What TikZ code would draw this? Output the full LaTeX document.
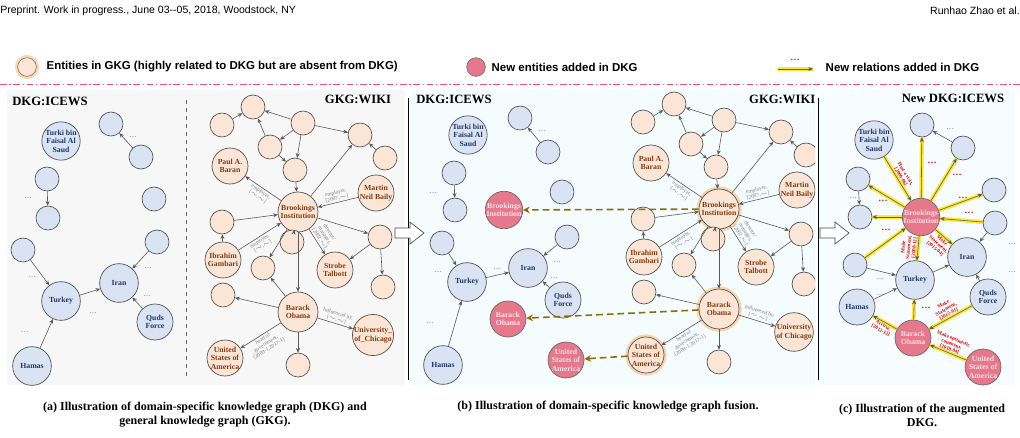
\documentclass[tikz,border=0pt]{standalone}
\usepackage{fontspec}
\setmainfont{Liberation Serif}
\newfontfamily\hsans{Liberation Sans}
\usetikzlibrary{arrows.meta,positioning}
\definecolor{bfill}{RGB}{218,227,243}
\definecolor{btext}{RGB}{31,56,100}
\definecolor{ofill}{RGB}{251,229,214}
\definecolor{otext}{RGB}{132,60,12}
\definecolor{rfill}{RGB}{230,120,140}
\definecolor{rtext}{RGB}{255,225,230}
\definecolor{olive}{RGB}{140,110,10}
\definecolor{pinkl}{RGB}{240,80,130}
\tikzset{
 base/.style={circle,draw=black!70,line width=0.5pt,inner sep=0pt,align=center,font=\bfseries\fontsize{5.8}{6.3}\selectfont},
 bs/.style={base,fill=bfill,minimum size=18pt},
 bl/.style={base,fill=bfill,text=btext,minimum size=27pt},
 bb/.style={base,fill=bfill,text=btext,minimum size=29pt},
 os/.style={base,fill=ofill,minimum size=18pt},
 ol/.style={base,fill=ofill,text=otext,minimum size=27pt},
 ob/.style={base,fill=ofill,text=otext,minimum size=30pt},
 rl/.style={base,fill=rfill,text=rtext,draw=black!60,minimum size=27pt},
 glow/.style={preaction={draw=orange!70,line width=4pt,opacity=0.45}},
 e/.style={draw=black!65,line width=0.45pt,-{Stealth[length=3.5pt,width=3pt]}},
 nw/.style={e,preaction={draw=yellow!85!orange,line width=3pt,-,opacity=0.8}},
 el/.style={font=\fontsize{4.1}{4.4}\selectfont,text=black!50,align=center,sloped,inner sep=1pt},
 rl2/.style={font=\bfseries\fontsize{3.8}{4.1}\selectfont,text=red!85!black,align=center,sloped,inner sep=1pt},
 dots/.style={font=\fontsize{6}{6}\selectfont,text=black!60},
 rdots/.style={font=\bfseries\fontsize{7}{7}\selectfont,text=red!85!black},
 ttl/.style={font=\bfseries\fontsize{9.5}{10}\selectfont},
 capt/.style={font=\bfseries\fontsize{9}{10.5}\selectfont,align=center},
 fuse/.style={draw=olive,dashed,dash pattern=on 5pt off 3pt,line width=1.2pt,-{Stealth[length=5pt,width=5pt]}},
}
\newcommand\gkgraph[1]{%
 \node[os] (#1g1) at (253,107) {};
 \node[os] (#1g2) at (222,125) {};
 \node[os] (#1g3) at (303,123) {};
 \node[os] (#1g4) at (270,147) {};
 \node[os] (#1g5) at (360,135) {};
 \node[os] (#1g6) at (385,158) {};
 \node[os] (#1g7) at (295,170) {};
 \node[ol] (#1paul) at (230,166) {Paul A.\\Baran};
 \node[ol] (#1martin) at (376,193) {Martin\\Neil Baily};
 \node[ob,#1glowstyle] (#1brook) at (298,212) {Brookings\\Institution};
 \node[os] (#1g8) at (222,222) {};
 \node[ol] (#1ibra) at (223,260) {Ibrahim\\Gambari};
 \node[os] (#1g9) at (292,242) {};
 \node[os] (#1g10) at (263,268) {};
 \node[ol] (#1strobe) at (335,270) {Strobe\\Talbott};
 \node[os] (#1g11) at (380,237) {};
 \node[os] (#1g12) at (383,287) {};
 \node[os] (#1g13) at (223,295) {};
 \node[ob,#1glowstyle] (#1obama) at (298,312) {Barack\\Obama};
 \node[ol] (#1chi) at (373,335) {\csname #1chicago\endcsname};
 \node[ol,#1glowstyle] (#1usa) at (225,358) {United\\States of\\America};
 \node[os] (#1g14) at (298,365) {};
 \draw[e] (#1g2)--(#1g1); \draw[e] (#1g3)--(#1g1); \draw[e] (#1g4)--(#1g1);
 \draw[e] (#1g3)--(#1g4); \draw[e] (#1g3)--(#1g7); \draw[e] (#1g3)--(#1g5);
 \draw[e] (#1g6)--(#1g5); \draw[e] (#1g4)--(#1g7); \draw[e] (#1g7)--(#1brook);
 \draw[e] (#1brook)--(#1g5);
 \draw[e] (#1brook)--node[el,below]{employer,\\{[}$\sim$,$\sim${]}}(#1paul);
 \draw[e] (#1martin)--node[el,above]{employer,\\{[}2007,$\sim${]}}(#1brook);
 \draw[e] (#1g8)--(#1brook); \draw[e] (#1ibra)--(#1g8);
 \draw[e] (#1ibra)--node[el,below,pos=0.45]{employer,\\{[}$\sim$,$\sim${]}}(#1brook);
 \draw[e] (#1brook)--(#1g9); \draw[e] (#1brook)--(#1g10);
 \draw[e] (#1brook)--node[el,above,pos=0.45]{director/\\manager,\\{[}2002,$\sim${]}}(#1strobe);
 \draw[e] (#1brook)--(#1g11); \draw[e] (#1g11)--(#1strobe); \draw[e] (#1g11)--(#1g12);
 \draw[e] (#1brook)--(#1obama); \draw[e] (#1obama)--(#1g10); \draw[e] (#1obama)--(#1g13);
 \draw[e] (#1obama)--node[el,above]{Influenced by,\\{[}$\sim$,$\sim${]}}(#1chi);
 \draw[e] (#1obama)--node[el,below]{head of\\government,\\{[}2009-1,2017-1{]}}(#1usa);
 \draw[e] (#1obama)--(#1g14);
}
\begin{document}
\begin{tikzpicture}[x=0.75pt,y=-0.75pt]
\useasboundingbox (0,0) rectangle (1020,437);
% header
\node[font=\hsans\fontsize{7.9}{8.5}\selectfont,anchor=west,inner sep=0pt] at (0,11) {Preprint. Work in progress., June 03--05, 2018, Woodstock, NY};
\node[font=\hsans\fontsize{7.9}{8.5}\selectfont,anchor=east,inner sep=0pt] at (1020,11) {Runhao Zhao et al.};
% legend
\node[circle,draw=black!60,fill=ofill,minimum size=14pt,inner sep=0pt,glow] (lg1) at (27,67) {};
\node[font=\hsans\bfseries\fontsize{8.6}{9}\selectfont,anchor=west] at (42,67) {Entities in GKG (highly related to DKG but are absent from DKG)};
\node[circle,draw=black!60,fill=rfill,minimum size=14pt,inner sep=0pt] (lg2) at (476,67) {};
\node[font=\hsans\bfseries\fontsize{8.6}{9}\selectfont,anchor=west] at (487,67) {New entities added in DKG};
\coordinate (la) at (778,69); \coordinate (lb) at (813,69);
\draw[nw] (la)--(lb);
\node[rdots] at (795,60) {\ldots};
\node[font=\hsans\bfseries\fontsize{8.6}{9}\selectfont,anchor=west] at (821,67) {New relations added in DKG};
\draw[pinkl,line width=0.6pt,dash pattern=on 5pt off 2pt on 1pt off 2pt] (0,84)--(1020,84);
% backgrounds
\fill[black!3] (7,90) rectangle (405,385);
\fill[cyan!4] (412,90) rectangle (815,385);
\fill[cyan!3] (818,90) rectangle (1015,385);
\draw[black!60,dashed,line width=0.7pt] (186,100)--(186,378);
\draw[black,line width=0.7pt] (408,98)--(408,380);
\draw[black,line width=0.7pt] (818,98)--(818,380);
% hollow arrows
\draw[black!70,fill=white,line width=0.5pt] (395,228)--(410,228)--(410,222)--(424,233)--(410,244)--(410,238)--(395,238)--cycle;
\draw[black!70,fill=white,line width=0.5pt] (820,228)--(835,228)--(835,222)--(849,233)--(835,244)--(835,238)--(820,238)--cycle;
% ---------- panel (a) DKG
\node[ttl] at (50,101) {DKG:ICEWS};
\node[ttl] at (358,99) {GKG:WIKI};
\node[bl] (aturki) at (61,141) {Turki bin\\Faisal Al\\Saud};
\node[bs] (a1) at (111,124) {}; \node[bs] (a2) at (141,157) {};
\draw[e] (a2)--(a1); \node[dots] at (133,137) {\ldots};
\node[bs] (a3) at (47,179) {}; \node[bs] (a4) at (48,218) {};
\draw[e] (a3)--(a4); \node[dots] at (28,198) {\ldots};
\node[bs] (a5) at (154,199) {};
\node[bs] (a6) at (157,242) {}; \node[bs] (a7) at (23,250) {};
\node[bb] (aturkey) at (61,301) {Turkey};
\node[bb] (airan) at (119,283) {Iran};
\node[bl] (aquds) at (155,322) {Quds\\Force};
\node[bb] (ahamas) at (32,366) {Hamas};
\draw[e] (ahamas)--(aturkey); \draw[e] (a7)--(aturkey); \draw[e] (aturkey)--(airan);
\draw[e] (a6)--(airan); \draw[e] (aquds)--(airan);
\node[dots] at (32,277) {\ldots}; \node[dots] at (25,332) {\ldots}; \node[dots] at (93,313) {\ldots};
\node[dots] at (148,268) {\ldots}; \node[dots] at (147,296) {\ldots};
% GKG (a)
\tikzset{aglowstyle/.style={}}
\expandafter\def\csname achicago\endcsname{University\_\\of\_Chicago}
\gkgraph{a}
% ---------- panel (b)
\begin{scope}
\clip (412,90) rectangle (815,385);
\node[ttl] at (454,99) {DKG:ICEWS};
\node[ttl,anchor=east] at (820,99) {GKG:WIKI};
\node[bl] (bturki) at (468,135) {Turki bin\\Faisal Al\\Saud};
\node[bs] (b1) at (520,118) {}; \node[bs] (b2) at (548,152) {};
\draw[e] (b2)--(b1); \node[dots] at (542,131) {\ldots};
\node[bs] (b3) at (454,173) {}; \node[bs] (b4) at (455,210) {};
\draw[e] (b3)--(b4); \node[dots] at (433,193) {\ldots};
\node[bs] (b5) at (562,192) {};
\node[rl] (bbrookr) at (504,210) {Brookings\\Institution};
\node[bs] (b6) at (442,243) {};
\node[bb] (bturkey) at (467,282) {Turkey};
\node[bb] (biran) at (528,268) {Iran};
\node[bs] (b7) at (567,237) {};
\node[bl] (bquds) at (563,300) {Quds\\Force};
\node[bb] (bhamas) at (443,365) {Hamas};
\node[rl] (bobamar) at (508,319) {Barack\\Obama};
\node[rl] (busar) at (566,360) {United\\States of\\America};
\draw[e] (b6)--(bturkey); \draw[e] (bhamas)--(bturkey); \draw[e] (bturkey)--(biran);
\draw[e] (b7)--(biran); \draw[e] (bquds)--(biran);
\node[dots] at (438,272) {\ldots}; \node[dots] at (430,323) {\ldots}; \node[dots] at (497,269) {\ldots};
\node[dots] at (557,262) {\ldots}; \node[dots] at (554,278) {\ldots};
\tikzset{bglowstyle/.style={glow}}
\expandafter\def\csname bchicago\endcsname{University\\of Chicago}
\begin{scope}[shift={(421,-3)}]
\gkgraph{b}
\end{scope}
\draw[fuse] (bbrook)--(bbrookr);
\draw[fuse] (bobama)--(bobamar);
\draw[fuse] (busa)--(busar);
\end{scope}
% ---------- panel (c)
\node[ttl] at (953,98) {New DKG:ICEWS};
\node[bl] (cturki) at (874,140) {Turki bin\\Faisal Al\\Saud};
\node[bs] (c1) at (922,125) {}; \node[bs] (c2) at (963,148) {};
\node[bs] (c3) at (858,179) {}; \node[bs] (c4) at (860,217) {};
\node[bs] (c5) at (994,190) {}; \node[bs] (c6) at (995,223) {};
\node[rl] (cbrook) at (921,217) {Brookings\\Institution};
\node[bs] (c7) at (855,265) {};
\node[bb] (cturkey) at (915,280) {Turkey};
\node[bb] (ciran) at (967,257) {Iran};
\node[bl] (cquds) at (988,297) {Quds\\Force};
\node[bl] (chamas) at (857,307) {Hamas};
\node[rl] (cobama) at (913,338) {Barack\\Obama};
\node[rl] (cusa) at (983,367) {United\\States of\\America};
\draw[e] (c2)--(c1); \draw[e] (c3)--(c4); \draw[e] (c6)--(ciran);
\draw[e] (c7)--(cturkey); \draw[e] (chamas)--(cturkey); \draw[e] (cturkey)--(ciran);
\draw[e] (cquds)--(ciran);
\draw[nw] (cturki)--node[rl2,above]{Host a visit,\\{[}2006-06{]}}(cbrook);
\draw[nw] (cbrook)--(c1); \draw[nw] (cbrook)--(c2); \draw[nw] (cbrook)--(c3);
\draw[nw] (cbrook)--(c4); \draw[nw] (cbrook)--(c5); \draw[nw] (c6)--(cbrook);
\draw[nw] (c7)--(cbrook);
\draw[nw] (cbrook)--node[rl2,above]{Make\\Statement,\\{[}2008-12{]}}(cturkey);
\draw[nw] (cbrook)--node[rl2,below,pos=0.55]{Make\\Statement,\\{[}2015-04{]}}(ciran);
\draw[nw] (cquds)--node[rl2,above]{Make\\Statement,\\{[}2012-01{]}}(cobama);
\draw[nw] (cobama)--node[rl2,below]{Accuse,\\{[}2012-12{]}}(chamas);
\draw[nw] (cusa)--node[rl2,above]{Make optimistic\\comment,\\{[}2018-04{]}}(cobama);
\draw[nw] (cobama)--(cturkey);
\node[rdots] at (932,163) {\ldots}; \node[rdots] at (957,175) {\ldots}; \node[rdots] at (883,201) {\ldots};
\node[rdots] at (963,198) {\ldots}; \node[rdots] at (969,213) {\ldots}; \node[rdots] at (886,230) {\ldots};
\node[rdots] at (926,308) {\ldots};
\node[dots] at (950,129) {\ldots}; \node[dots] at (853,198) {\ldots}; \node[dots] at (1012,244) {\ldots};
\node[dots] at (1012,272) {\ldots}; \node[dots] at (880,279) {\ldots}; \node[dots] at (880,295) {\ldots};
% captions
\node[capt] at (205,415) {(a) Illustration of domain-specific knowledge graph (DKG) and\\general knowledge graph (GKG).};
\node[capt] at (608,407) {(b) Illustration of domain-specific knowledge graph fusion.};
\node[capt] at (922,415) {(c) Illustration of the augmented\\DKG.};
\end{tikzpicture}
\end{document}
